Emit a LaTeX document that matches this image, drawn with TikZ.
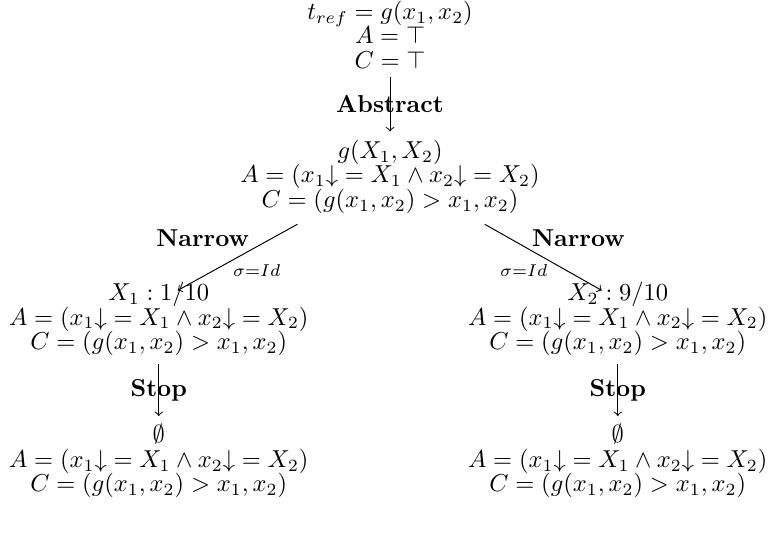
\documentclass[tikz,border=0pt]{standalone}
\usepackage{amsmath, amssymb}
\usetikzlibrary{positioning}

\begin{document}
\begin{tikzpicture}[node distance=0.74cm, every node/.style={align=center}, state/.style={font={\fontsize{10}{10}\selectfont\lineskiplimit=-10pt}}, lbl/.style={inner sep=1pt}]
        \useasboundingbox (0,0) rectangle (11.07,-7.69);
        \node[state] (tref) at (5.60,-0.50) {$t_{ref} = g(x_1,x_2)$ \\ $A = \top$ \\ $C = \top$};
        \node[state] (abs) [below=0.78cm of tref] {$g(X_1,X_2)$ \\ $A = (x_1{\downarrow} = X_1 \wedge x_2{\downarrow} = X_2)$ \\ $C = (g(x_1,x_2) > x_1,x_2)$};
        \node[state] (left1) [below=of abs, xshift=-3.32cm] {$X_1 : 1/10$ \\ $A = (x_1{\downarrow} = X_1 \wedge x_2{\downarrow} = X_2)$ \\ $C = (g(x_1,x_2) > x_1,x_2)$};
        \node[state] (right1) [below=of abs, xshift=3.27cm] {$X_2 : 9/10$ \\ $A = (x_1{\downarrow} = X_1 \wedge x_2{\downarrow} = X_2)$ \\ $C = (g(x_1,x_2) > x_1,x_2)$};
        \node[state] (leftstop) [below=0.74cm of left1] {$\emptyset$ \\ $A = (x_1{\downarrow} = X_1 \wedge x_2{\downarrow} = X_2)$ \\ $C = (g(x_1,x_2) > x_1,x_2)$};
        \node[state] (rightstop) [below=0.74cm of right1] {$\emptyset$ \\ $A = (x_1{\downarrow} = X_1 \wedge x_2{\downarrow} = X_2)$ \\ $C = (g(x_1,x_2) > x_1,x_2)$};
        \draw[->] (tref) -- node {\textbf{Abstract}} (abs);
        \draw[->] ([xshift=-1.33cm,yshift=-0.03cm]abs.south) -- node[lbl, above left, pos=0.38] {\textbf{Narrow}} node[lbl, below right, pos=0.56] {$\scriptstyle\sigma=Id$} ([xshift=0.27cm,yshift=-0.24cm]left1.north);
        \draw[->] ([xshift=1.36cm,yshift=-0.03cm]abs.south) -- node[lbl, above right, pos=0.38] {\textbf{Narrow}} node[lbl, below left, pos=0.56] {$\scriptstyle\sigma=Id$} ([xshift=-0.23cm,yshift=-0.24cm]right1.north);
        \draw[->] (left1) -- node {\textbf{Stop}} (leftstop);
        \draw[->] (right1) -- node {\textbf{Stop}} (rightstop);
      \end{tikzpicture}
\end{document}
